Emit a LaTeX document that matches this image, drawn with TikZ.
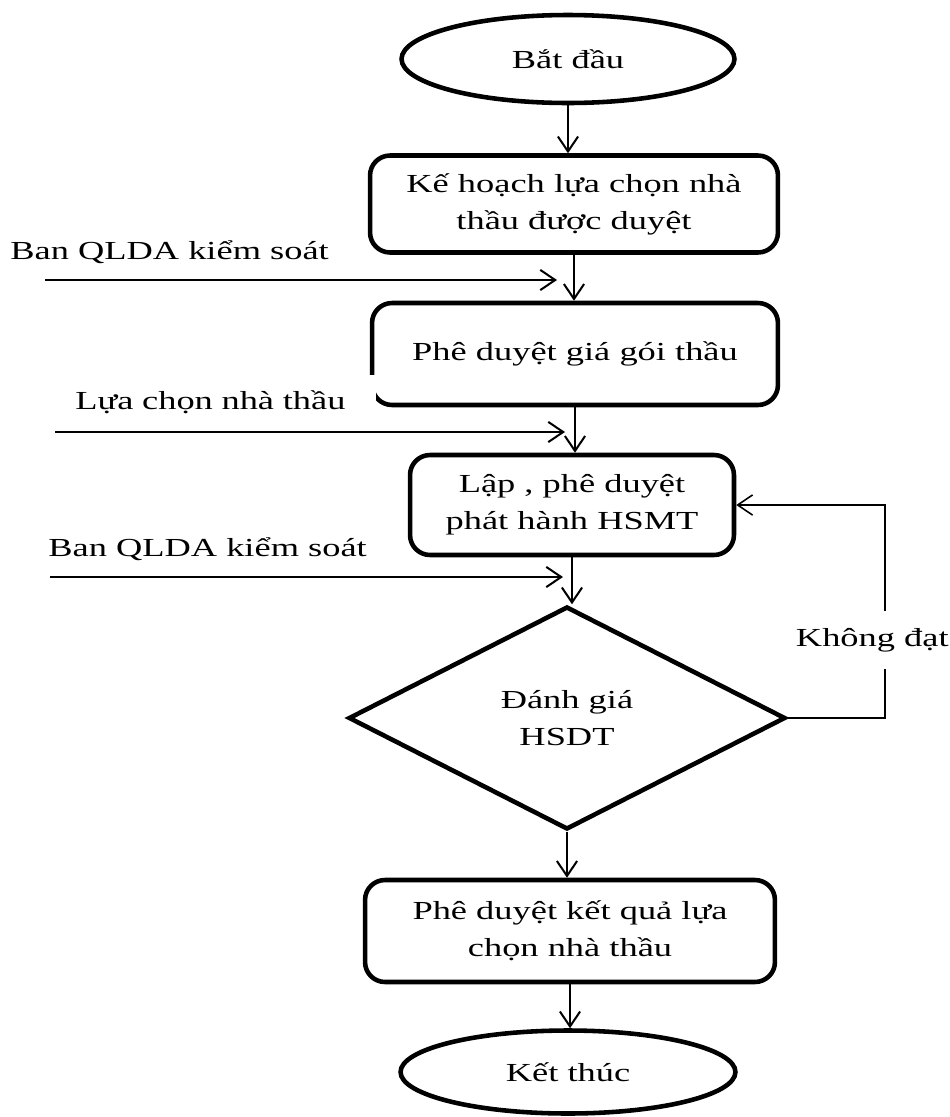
\documentclass[tikz,border=0pt]{standalone}
\usepackage{fontspec}
\setmainfont[FakeStretch=1.40]{Liberation Serif}
\usetikzlibrary{shapes.geometric,arrows.meta}

\begin{document}
\begin{tikzpicture}[x=0.02cm,y=-0.02cm,
  font=\fontsize{14.8}{21}\selectfont,
  box/.style={draw,line width=2.6pt,rounded corners=0.4cm,align=center,inner sep=0pt},
  term/.style={draw,ellipse,line width=2.6pt,inner sep=0pt},
  decision/.style={draw,diamond,line width=2.6pt,inner sep=0pt,align=center},
  flow/.style={line width=1.15pt,-{Straight Barb[length=8.5pt,width=11.5pt]}},
  loopline/.style={line width=0.9pt,-{Straight Barb[length=8.5pt,width=11.5pt]}},
  side/.style={inner sep=0pt,anchor=west},
]
\useasboundingbox (0,0) rectangle (950,1117);

% main chain
\node[term, minimum width=6.66cm, minimum height=1.76cm] (start) at (568,59) {Bắt đầu};
\node[box, minimum width=8.16cm, minimum height=1.94cm] (plan) at (574,204) {Kế hoạch lựa chọn nhà\\thầu được duyệt};
\node[box, minimum width=8.12cm, minimum height=2.04cm] (price) at (575,354) {Phê duyệt giá gói thầu};
\node[box, minimum width=6.48cm, minimum height=2cm] (hsmt) at (572,505) {Lập , phê duyệt\\phát hành HSMT};
\node[decision, minimum width=8.74cm, minimum height=4.46cm] (eval) at (567,718) {Đánh giá\\HSDT};
\node[box, minimum width=8.2cm, minimum height=2.04cm] (result) at (570,931) {Phê duyệt kết quả lựa\\chọn nhà thầu};
\node[term, minimum width=6.7cm, minimum height=1.66cm] (end) at (568,1072) {Kết thúc};

\draw[flow] (start.south) -- (start.south |- plan.north);
\draw[flow] (plan.south) -- (plan.south |- price.north);
\draw[flow] (price.south) -- (price.south |- hsmt.north);
\draw[flow] (hsmt.south) -- (hsmt.south |- eval.north);
\draw[flow] (eval.south) -- (eval.south |- result.north);
\draw[flow] (result.south) -- (result.south |- end.north);

% control inputs from the left
\node[side] (ctl1) at (10,252) {Ban QLDA kiểm soát};
\coordinate (ctl1s) at (45,280);
\coordinate (ctl1e) at (557,280);
\draw[flow] (ctl1s) -- (ctl1e);

\node[anchor=west, fill=white, inner sep=0pt, minimum height=1.1cm, text width=6.02cm, align=left] (ctl2) at (75,402) {Lựa chọn nhà thầu};
\coordinate (ctl2s) at (55,432);
\coordinate (ctl2e) at (565,432);
\draw[flow] (ctl2s) -- (ctl2e);

\node[side] (ctl3) at (48,549) {Ban QLDA kiểm soát};
\coordinate (ctl3s) at (50,577);
\coordinate (ctl3e) at (563,577);
\draw[flow] (ctl3s) -- (ctl3e);

% rejection loop
\coordinate (fbx) at (885,718);
\draw[loopline] (eval.east) -- (fbx) -- (fbx |- hsmt.east) -- (hsmt.east);
\node[fill=white, inner sep=0pt, minimum height=1.16cm, anchor=east] (fail) at (949,640) {Không đạt};
\end{tikzpicture}
\end{document}
